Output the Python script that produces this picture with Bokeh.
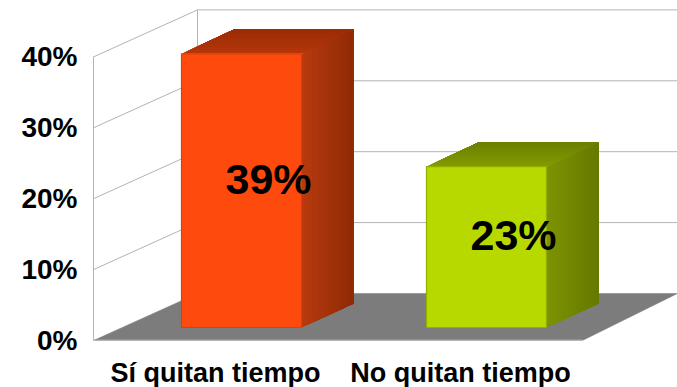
from bokeh.plotting import figure
from bokeh.models import FixedTicker, Range1d
from bokeh.core.properties import value
from bokeh.embed import file_html
from bokeh.resources import INLINE

categories = ["Sí quitan tiempo", "No quitan tiempo"]
values = [38.6, 22.7]
value_labels = ["39%", "23%"]
y_ticks = [0, 10, 20, 30, 40]
y_tick_labels = ["0%", "10%", "20%", "30%", "40%"]

FRONT = [("#ff4a0d", "#d9400c"), ("#b7d900", "#93ad00")]
SIDE = [("#b83a0e", "#8e2a05"), ("#7d9300", "#667800")]
TOP = [("#b7360a", "#9a2c06"), ("#839b00", "#6b7e00")]

W, H = 677, 387
BOTTOM = 47
PX_PER_PCT = 7.09
PX_PER_CAT = 245
BAR0_LEFT = 181
BAR_W = 120 / PX_PER_CAT
LEFT = 93


def ux(px):
    return px / PX_PER_CAT


def uy(px):
    return px / PX_PER_PCT


xs0 = (LEFT - BAR0_LEFT) / PX_PER_CAT
xs1 = (W - BAR0_LEFT) / PX_PER_CAT
p = figure(width=W, height=H, output_backend="svg", toolbar_location=None,
           x_range=Range1d(xs0, xs1), y_range=Range1d(0, 340 / PX_PER_PCT),
           min_border_left=LEFT, min_border_bottom=BOTTOM, min_border_top=0, min_border_right=0,
           outline_line_color=None, background_fill_color="white",
           frame_height=340, frame_width=W - LEFT,
           margin=(0, 0, 0, 0))
p.grid.visible = False

WDX, WDY = ux(104), uy(47)
BDX, BDY = ux(52), uy(24)
BASE = uy(13)
GRID = "#b3b3b3"

for t in y_ticks[1:]:
    p.line([xs0, xs0 + WDX, xs1], [t, t + WDY, t + WDY], line_color=GRID, line_width=1)
p.line([xs0 + WDX, xs0 + WDX], [WDY, 40 + WDY], line_color=GRID, line_width=1)

floor_right = ux(582 - BAR0_LEFT)
p.patch([xs0, xs0 + WDX, xs1, floor_right], [0, WDY, WDY, 0], fill_color="#7c7c7c", line_color="#7c7c7c", line_width=0.5)
p.line([xs0, floor_right], [0.05, 0.05], line_color="#a6a6a6", line_width=1.5)


def mix(c1, c2, t):
    a = [int(c1[i:i + 2], 16) for i in (1, 3, 5)]
    b = [int(c2[i:i + 2], 16) for i in (1, 3, 5)]
    return "#%02x%02x%02x" % tuple(round(u + (v - u) * t) for u, v in zip(a, b))


STRIPS = 26
for i, v in enumerate(values):
    x1, x2 = i, i + BAR_W
    y1, y2 = BASE, BASE + v
    for k in range(STRIPS):
        a = k / STRIPS
        col = mix(*SIDE[i], a)
        p.patch([x2 + a * BDX, x2 + BDX, x2 + BDX, x2 + a * BDX],
                [y1 + a * BDY, y1 + BDY, y2 + BDY, y2 + a * BDY],
                fill_color=col, line_color=None)
    for k in range(STRIPS):
        a = k / STRIPS
        col = mix(*TOP[i], a)
        p.patch([x1 + a * BDX, x1 + BDX, x2 + BDX, x2 + a * BDX],
                [y2 + a * BDY, y2 + BDY, y2 + BDY, y2 + a * BDY],
                fill_color=col, line_color=None)
    p.quad(left=[x1], right=[x2], bottom=[y1], top=[y2], fill_color=FRONT[i][0],
           line_color=FRONT[i][1], line_width=1.2)
    p.text(x=[x1 + BAR_W / 2 + BDX / 2 + ux(1)], y=[(y1 + y2) / 2 + BDY / 2], text=[value_labels[i]],
           text_font=value("Liberation Sans"), text_font_size="43px", text_font_style="bold",
           text_color="black", text_align="center", text_baseline="middle")

p.yaxis.ticker = FixedTicker(ticks=y_ticks)
p.yaxis.major_label_overrides = dict(zip(y_ticks, y_tick_labels))
p.yaxis.bounds = (0, 40)
p.yaxis.axis_line_color = GRID
p.yaxis.major_tick_line_color = None
p.yaxis.minor_tick_line_color = None
p.yaxis.major_label_standoff = 10
p.yaxis.major_label_text_font = "Liberation Sans"
p.yaxis.major_label_text_font_style = "bold"
p.yaxis.major_label_text_font_size = "28px"
p.yaxis.major_label_text_color = "black"

cat_ticks = [i + (215 - BAR0_LEFT) / PX_PER_CAT for i in range(len(categories))]
p.xaxis.ticker = FixedTicker(ticks=cat_ticks)
p.xaxis.major_label_overrides = dict(zip(cat_ticks, categories))
p.xaxis.axis_line_color = None
p.xaxis.major_tick_line_color = None
p.xaxis.minor_tick_line_color = None
p.xaxis.major_label_standoff = 11
p.xaxis.major_label_text_font = "Liberation Sans"
p.xaxis.major_label_text_font_style = "bold"
p.xaxis.major_label_text_font_size = "27px"
p.xaxis.major_label_text_color = "black"

open("out.html", "w").write(file_html(p, INLINE))
